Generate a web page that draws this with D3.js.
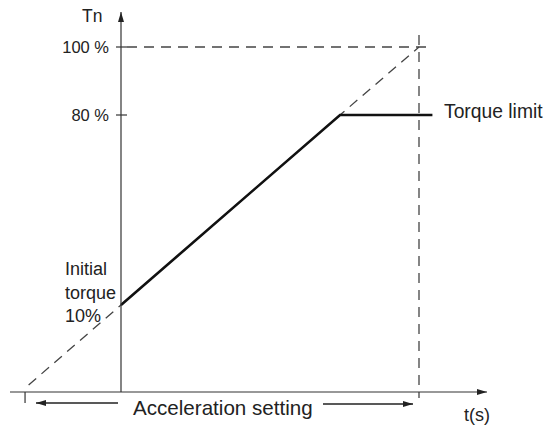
<!DOCTYPE html>
<html>
<head>
<meta charset="utf-8">
<script src="https://cdn.jsdelivr.net/npm/d3@7"></script>
<style>
  body { margin: 0; background: #fff; }
  text { font-family: "Liberation Sans", Arial, sans-serif; fill: #222; }
</style>
</head>
<body>
<script>
// Waarden van het schema (koppel in %, tijd in willekeurige eenheden).
var yTicks = [80, 100];
var yTickLabels = ["80 %", "100 %"];
var initialTorque = 10;
var torqueLimit = 80;
var fullTorque = 100;

// Tijdpunten: begin van de stippellijn, start acceleratie, bereiken limiet, einde acceleratie.
var rampTimes = [-3.1, 0, 7.35, 10];
var rampTorque = [0, initialTorque, torqueLimit, fullTorque];
var limitTimes = [7.35, 10.45];
var startTick = -3.22;

var width = 546, height = 425;

// Schalen (y is schematisch, dus meerdelig).
var x = d3.scaleLinear().domain([0, 10]).range([121, 419]);
var y = d3.scaleLinear().domain([0, 10, 80, 100]).range([385, 305, 115, 47]);
var axisY = 392;

var svg = d3.select("body").append("svg")
    .attr("width", width)
    .attr("height", height);

// Pijlpunten.
var defs = svg.append("defs");
defs.append("marker")
    .attr("id", "pijl")
    .attr("viewBox", "0 0 10 6")
    .attr("refX", 10).attr("refY", 3)
    .attr("markerWidth", 10).attr("markerHeight", 6)
    .attr("markerUnits", "userSpaceOnUse")
    .attr("orient", "auto")
  .append("path")
    .attr("d", "M0,0 L10,3 L0,6 Z")
    .attr("fill", "#222");

var lijn = d3.line()
    .x(function(d) { return x(d.t); })
    .y(function(d) { return y(d.p); });

var ramp = rampTimes.map(function(t, i) { return {t: t, p: rampTorque[i]}; });

// Stippellijnen: 100% horizontaal en verticaal einde acceleratie.
svg.append("line")
    .attr("x1", x(0) + 6).attr("x2", x(10.45))
    .attr("y1", y(fullTorque)).attr("y2", y(fullTorque))
    .attr("stroke", "#444").attr("stroke-width", 1.3)
    .attr("stroke-dasharray", "10,7");

svg.append("line")
    .attr("x1", x(10)).attr("x2", x(10))
    .attr("y1", 35).attr("y2", axisY + 6)
    .attr("stroke", "#444").attr("stroke-width", 1.3)
    .attr("stroke-dasharray", "10,7");

// Doorgetrokken stippellijn van de helling.
svg.append("path")
    .datum(ramp)
    .attr("d", lijn)
    .attr("fill", "none")
    .attr("stroke", "#444").attr("stroke-width", 1.3)
    .attr("stroke-dasharray", "10,7");

// Werkelijk koppel: helling vanaf 10% tot de limiet, daarna vlak.
svg.append("path")
    .datum(ramp.slice(1, 3).concat(limitTimes.slice(1).map(function(t) { return {t: t, p: torqueLimit}; })))
    .attr("d", lijn)
    .attr("fill", "none")
    .attr("stroke", "#111").attr("stroke-width", 2.6);

// Assen.
svg.append("line")
    .attr("x1", 10).attr("x2", 487)
    .attr("y1", axisY).attr("y2", axisY)
    .attr("stroke", "#333").attr("stroke-width", 1.2)
    .attr("marker-end", "url(#pijl)");

svg.append("line")
    .attr("x1", x(0)).attr("x2", x(0))
    .attr("y1", axisY).attr("y2", 12)
    .attr("stroke", "#333").attr("stroke-width", 1.2)
    .attr("marker-end", "url(#pijl)");

// Y ticks en labels.
yTicks.forEach(function(v, i) {
  svg.append("line")
      .attr("x1", x(0) - 5).attr("x2", x(0) + 6)
      .attr("y1", y(v)).attr("y2", y(v))
      .attr("stroke", "#333").attr("stroke-width", 1.2);
  svg.append("text")
      .attr("x", 109).attr("y", y(v) + 6)
      .attr("text-anchor", "end")
      .attr("font-size", "16.5px")
      .text(yTickLabels[i]);
});

// Startpunt tick op de x-as.
svg.append("line")
    .attr("x1", x(startTick)).attr("x2", x(startTick))
    .attr("y1", axisY).attr("y2", axisY + 11)
    .attr("stroke", "#333").attr("stroke-width", 1.2);

// Assentitels.
svg.append("text")
    .attr("x", 82).attr("y", 22)
    .attr("font-size", "17.5px")
    .text("Tn");

svg.append("text")
    .attr("x", 464).attr("y", 421)
    .attr("font-size", "18px")
    .text("t(s)");

// Torque limit.
svg.append("text")
    .attr("x", 444).attr("y", y(torqueLimit) + 3)
    .attr("font-size", "19.3px")
    .text("Torque limit");

// Initial torque.
var init = svg.append("text")
    .attr("font-size", "18px");
["Initial", "torque", "10%"].forEach(function(s, i) {
  init.append("tspan")
      .attr("x", 65)
      .attr("y", 275 + i * 23.5)
      .text(s);
});

// Acceleration setting met pijlen.
svg.append("text")
    .attr("x", 133).attr("y", 415)
    .attr("font-size", "20.6px")
    .text("Acceleration setting");

svg.append("line")
    .attr("x1", 118).attr("x2", 36)
    .attr("y1", 403).attr("y2", 403)
    .attr("stroke", "#222").attr("stroke-width", 1.6)
    .attr("marker-end", "url(#pijl)");

svg.append("line")
    .attr("x1", 323).attr("x2", 413)
    .attr("y1", 404).attr("y2", 404)
    .attr("stroke", "#222").attr("stroke-width", 1.6)
    .attr("marker-end", "url(#pijl)");
</script>
</body>
</html>
